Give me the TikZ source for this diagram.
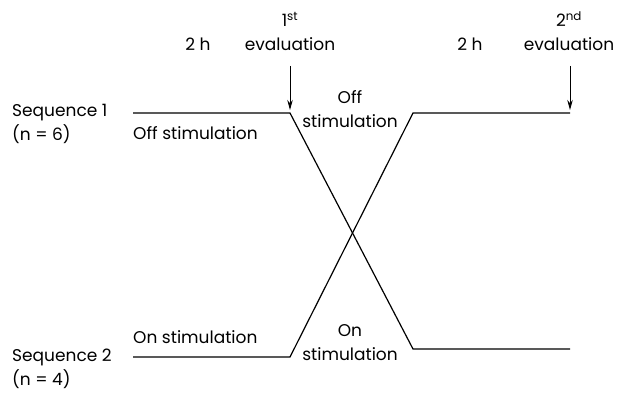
\documentclass[tikz,border=0pt]{standalone}
\usepackage{fontspec}
\setmainfont{Poppins}
\usepackage{tikz}
\usetikzlibrary{arrows.meta, positioning}
\tikzstyle{tekst} = [font=\fontsize{17}{24}\selectfont, inner sep=0pt, align=center]
\tikzstyle{venstre} = [tekst, align=left]
\tikzstyle{linje} = [line width=1.2pt]
\tikzstyle{arrow} = [line width=0.9pt,-{Stealth[length=10pt,width=5.5pt]}]

\begin{document}
\begin{tikzpicture}[x=1pt, y=-1pt]
	\useasboundingbox (0,0) rectangle (617,393);
	
	% knekkpunkt
	\coordinate (s1a) at (133,113);
	\coordinate (s1b) at (290,113);
	\coordinate (s1c) at (413,349);
	\coordinate (s1d) at (570,349);
	\coordinate (s2a) at (133,357);
	\coordinate (s2b) at (290,357);
	\coordinate (s2c) at (413,113);
	\coordinate (s2d) at (570,113);
	\coordinate (eval1) at (290,66);
	\coordinate (eval2) at (570,66);
	
	\node (seq1) [venstre, anchor=north west] at (12,104) {Sequence 1\\(n = 6)};
	\node (seq2) [venstre, anchor=north west] at (12,349) {Sequence 2\\(n = 4)};
	\node (tid1) [tekst, anchor=base] at (198,51) {2 h};
	\node (tid2) [tekst, anchor=base] at (470,51) {2 h};
	\node (tekst1) [tekst, anchor=south] at (290,51) {1\textsuperscript{st}\\evaluation};
	\node (tekst2) [tekst, anchor=south] at (569,51) {2\textsuperscript{nd}\\evaluation};
	\node (av1) [tekst, anchor=base west] at (133,139) {Off stimulation};
	\node (av2) [tekst, anchor=south] at (350,128) {Off\\stimulation};
	\node (paa1) [tekst, anchor=base west] at (133,343) {On stimulation};
	\node (paa2) [tekst, anchor=south] at (350,361) {On\\stimulation};
	
	\draw [linje] (s1a) -- (s1b) -- (s1c) -- (s1d);
	\draw [linje] (s2a) -- (s2b) -- (s2c) -- (s2d);
	\draw [arrow] (eval1) -- ([yshift=3pt]s1b);
	\draw [arrow] (eval2) -- ([yshift=3pt]s2d);
\end{tikzpicture}
\end{document}
